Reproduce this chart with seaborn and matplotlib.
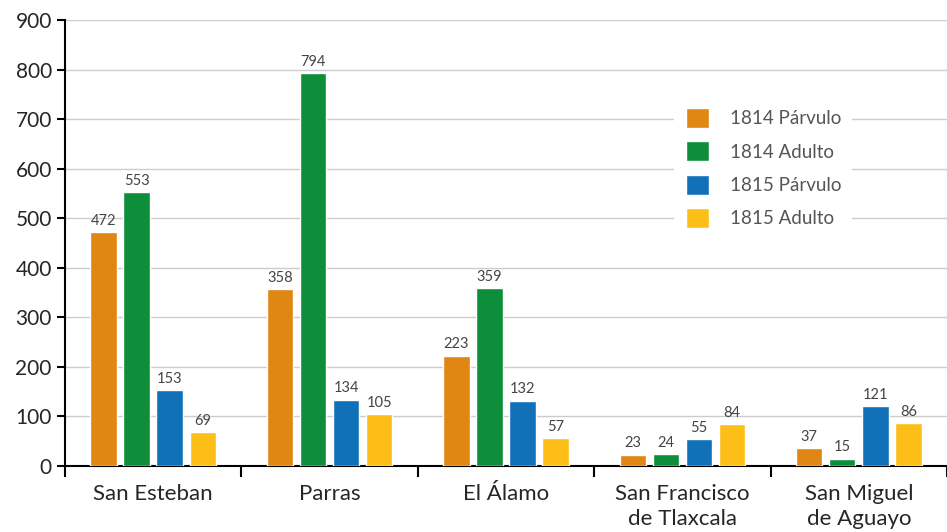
import pandas as pd
import numpy as np
import matplotlib.pyplot as plt
import seaborn as sns
from matplotlib.ticker import FixedLocator, NullFormatter

sns.set_style("white")
plt.rcParams['font.family'] = ['Lato', 'DejaVu Sans']

places = ['San Esteban', 'Parras', 'El Álamo', 'San Francisco\nde Tlaxcala', 'San Miguel\nde Aguayo']
series = ['1814 Párvulo', '1814 Adulto', '1815 Párvulo', '1815 Adulto']
p1814 = [472, 358, 223, 23, 37]
a1814 = [553, 794, 359, 24, 15]
p1815 = [153, 134, 132, 55, 121]
a1815 = [69, 105, 57, 84, 86]
colors = ['#E08613', '#0E8E3A', '#1270B8', '#FDBF17']

rows = []
for s, vals in zip(series, [p1814, a1814, p1815, a1815]):
    for pl, v in zip(places, vals):
        rows.append({'Lugar': pl, 'Serie': s, 'Valor': v})
df = pd.DataFrame(rows)

fig = plt.figure(figsize=(9.47, 5.32), dpi=100)
ax = fig.add_axes([0.0686, 0.124, 0.9314, 0.838])
sns.barplot(data=df, x='Lugar', y='Valor', hue='Serie', palette=colors, saturation=1,
            width=0.75, gap=0.2, ax=ax, zorder=3)

for c in ax.containers:
    ax.bar_label(c, fmt='%d', padding=3, fontsize=10.5, color='#444444')

ax.set_ylim(0, 900)
ax.set_xlim(-0.5, 4.5)
ax.set_yticks(range(0, 901, 100))
ax.yaxis.grid(True, color='#cccccc', linewidth=1, zorder=0)
ax.set_axisbelow(True)
ax.set_xlabel('')
ax.set_ylabel('')
for sp in ['top', 'right']:
    ax.spines[sp].set_visible(False)
for sp in ['left', 'bottom']:
    ax.spines[sp].set_color('black')
    ax.spines[sp].set_linewidth(1.5)

ax.tick_params(axis='y', labelsize=15, length=6, width=1.5, color='black', left=True)
ax.tick_params(axis='x', which='major', labelsize=16, length=0, pad=13)
ax.xaxis.set_minor_locator(FixedLocator(np.arange(-0.5, 5, 1)))
ax.xaxis.set_minor_formatter(NullFormatter())
ax.tick_params(axis='x', which='minor', length=8, width=1.5, color='black', bottom=True)
for lab in ax.get_xticklabels():
    lab.set_verticalalignment('top')
    lab.set_linespacing(1.3)

leg = ax.legend(loc='upper left', bbox_to_anchor=(0.712, 0.818), bbox_transform=fig.transFigure,
                fontsize=13.5, frameon=True, facecolor='white', edgecolor='none', framealpha=1,
                handlelength=1.25, handleheight=1.25, labelspacing=0.72, handletextpad=1.1,
                borderpad=0.6, borderaxespad=0)
for t in leg.get_texts():
    t.set_color('#555555')

fig.savefig('out.png', dpi=100)
